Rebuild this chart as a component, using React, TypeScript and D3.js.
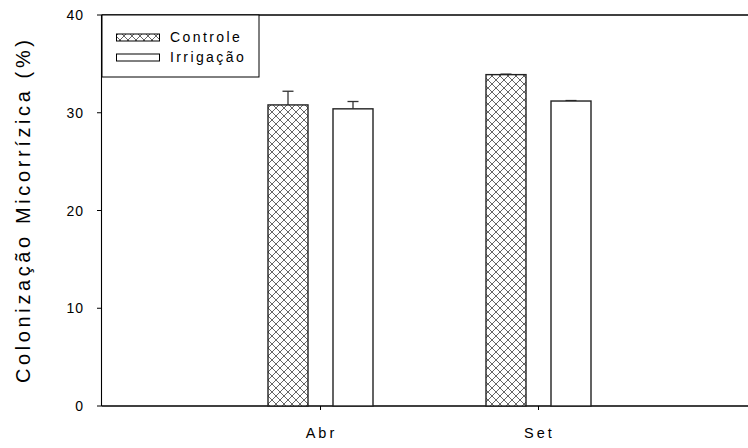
import * as d3 from "d3";

const categories = ["Abr", "Set"];
const series = ["Controle", "Irrigação"];
const controle = [30.8, 33.9];
const controleErr = [1.4, 0.05];
const irrigacao = [30.4, 31.2];
const irrigacaoErr = [0.75, 0.05];
const yTicks = [0, 10, 20, 30, 40];

export default function App() {
  const width = 748;
  const height = 448;
  const left = 101.5;
  const top = 15;
  const bottom = 406;
  const font = "'Liberation Sans', Arial, sans-serif";

  const xScale = d3
    .scalePoint<string>()
    .domain(categories)
    .range([left + 1, left + 655])
    .padding(1);

  const inner = d3
    .scaleBand<string>()
    .domain(series)
    .range([-52.5, 52.5])
    .paddingInner(25 / 65)
    .paddingOuter(0);

  const yScale = d3.scaleLinear().domain([0, 40]).range([bottom, top]);

  const values = [controle, irrigacao];
  const errors = [controleErr, irrigacaoErr];
  const fills = ["url(#hatch)", "#fff"];

  return (
    <svg
      width={width}
      height={height}
      style={{ position: "absolute", left: 0, top: 0, background: "#fff" }}
      fontFamily={font}
    >
      <defs>
        <pattern id="hatch" width={8} height={8} patternUnits="userSpaceOnUse">
          <rect width={8} height={8} fill="#fff" />
          <path
            d="M0,0L8,8M8,0L0,8M-1,7L1,9M7,-1L9,1"
            stroke="#555"
            strokeWidth={0.9}
            fill="none"
          />
        </pattern>
      </defs>

      {/* frame lines */}
      <line x1={left} x2={width} y1={top} y2={top} stroke="#000" strokeWidth={1.3} />
      <line x1={left} x2={width} y1={bottom} y2={bottom} stroke="#000" strokeWidth={1.3} />
      <line x1={left} x2={left} y1={top} y2={bottom} stroke="#000" strokeWidth={1.1} />

      {/* Y axis */}
      <g fontSize={14} fill="#000">
        {yTicks.map((t) => (
          <g key={t}>
            <line x1={left - 4.5} x2={left} y1={yScale(t)} y2={yScale(t)} stroke="#000" />
            <text
              x={84}
              y={yScale(t)}
              textAnchor="end"
              dominantBaseline="central"
              letterSpacing={1}
            >
              {t}
            </text>
          </g>
        ))}
      </g>
      <text
        transform={`translate(30, 211.5) rotate(-90)`}
        textAnchor="middle"
        fontSize={20}
        textLength={343}
        lengthAdjust="spacing"
      >
        Colonização Micorrízica (%)
      </text>

      {/* X axis */}
      {categories.map((c) => (
        <g key={c}>
          <line
            x1={xScale(c)!}
            x2={xScale(c)!}
            y1={bottom}
            y2={bottom + 4}
            stroke="#000"
          />
          <text
            x={xScale(c)! + 1}
            y={437.5}
            textAnchor="middle"
            fontSize={14.5}
            letterSpacing={3}
          >
            {c}
          </text>
        </g>
      ))}

      {/* Bars */}
      {categories.map((c, i) => (
        <g key={c}>
          {series.map((s, j) => {
            const x = xScale(c)! + inner(s)!;
            const v = values[j][i];
            const e = errors[j][i];
            const cx = x + inner.bandwidth() / 2;
            return (
              <g key={s}>
                <line
                  x1={cx}
                  x2={cx}
                  y1={yScale(v)}
                  y2={yScale(v + e)}
                  stroke="#333"
                  strokeWidth={1.3}
                />
                <line
                  x1={cx - 5.5}
                  x2={cx + 5.5}
                  y1={yScale(v + e)}
                  y2={yScale(v + e)}
                  stroke="#333"
                  strokeWidth={1.3}
                />
                <rect
                  x={x}
                  y={yScale(v)}
                  width={inner.bandwidth()}
                  height={bottom - yScale(v)}
                  fill={fills[j]}
                  stroke="#222"
                  strokeWidth={1.4}
                />
              </g>
            );
          })}
        </g>
      ))}

      {/* Legend */}
      <rect x={102} y={top} width={157} height={62} fill="#fff" stroke="#000" strokeWidth={1} />
      {series.map((s, j) => (
        <g key={s}>
          <rect
            x={116.5}
            y={34 + j * 20}
            width={43}
            height={7}
            fill={fills[j]}
            stroke="#000"
            strokeWidth={1}
          />
          <text x={170} y={42.3 + j * 19.5} fontSize={14} letterSpacing={2.4}>
            {s}
          </text>
        </g>
      ))}
    </svg>
  );
}
